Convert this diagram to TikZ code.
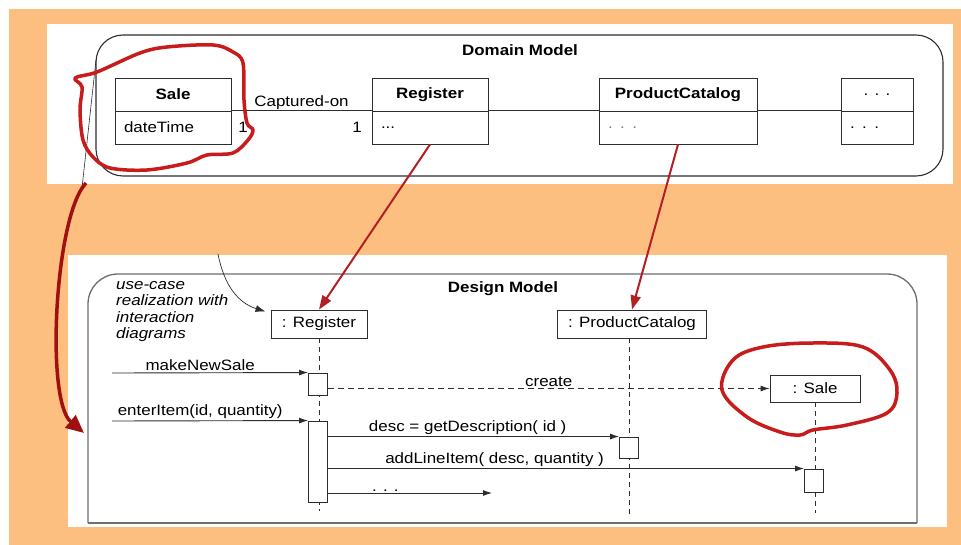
\documentclass[tikz,border=0pt]{standalone}
\usepackage{fontspec}
\setmainfont{Liberation Sans}[FakeStretch=1.13]
\usetikzlibrary{arrows.meta}
\definecolor{bgorange}{RGB}{253,191,128}
\definecolor{scrib}{RGB}{200,28,28}
\definecolor{redarrow}{RGB}{178,32,38}
\definecolor{darkred}{RGB}{160,16,16}
\definecolor{ink}{RGB}{45,45,45}
\definecolor{framegray}{RGB}{110,110,110}
\begin{document}
\begin{tikzpicture}[x=1pt,y=-1pt,
  font=\fontsize{15}{17}\selectfont,
  cname/.style={draw=ink, line width=0.9pt, minimum height=33pt, inner sep=0pt, font=\fontsize{15}{17}\selectfont\bfseries},
  cattr/.style={draw=ink, line width=0.9pt, minimum height=33pt, inner xsep=9pt, inner ysep=0pt, align=left},
  assoc/.style={draw=ink, line width=0.9pt},
  domframe/.style={draw=ink, line width=1.1pt, rounded corners=27pt},
  desframe/.style={draw=framegray, line width=1.3pt},
  title/.style={font=\fontsize{15}{17}\selectfont\bfseries},
  obj/.style={draw=ink, line width=0.9pt, minimum height=28pt, inner sep=0pt, fill=white},
  act/.style={draw=ink, line width=0.9pt, minimum width=19pt, inner sep=0pt, fill=white},
  lifeline/.style={draw=ink, line width=0.9pt, dash pattern=on 5pt off 4pt},
  msg/.style={draw=ink, line width=0.9pt, -{Latex[length=9pt,width=6pt]}},
  mlabel/.style={above, inner sep=1.5pt},
  notetext/.style={font=\fontsize{15}{16.4}\selectfont\itshape, align=left, inner sep=0pt},
  notearrow/.style={draw=ink, line width=0.7pt, -{Latex[length=10pt,width=7pt]}},
  redarr/.style={draw=redarrow, line width=2pt, -{Triangle[length=14pt,width=10pt]}},
  bigredarr/.style={draw=darkred, line width=3.5pt, -{Triangle[length=18pt,width=16pt]}},
  scribble/.style={draw=scrib, line width=3.5pt, line join=round}
]
\useasboundingbox (0,0) rectangle (961,545);
% backgrounds
\fill[bgorange] (9,9) rectangle (961,545);
\fill[white] (47,24) rectangle (953,184);
\fill[white] (68,255) rectangle (947,527);

% ---------------- Domain model ----------------
\draw[domframe] (96,35) rectangle (943,176);
\draw[ink, line width=0.6pt] (96,60) -- (82,188);
\node[title] (domtitle) at (520,50) {Domain Model};

\node[cname, minimum width=116pt] (saleN) at (173,94.5) {Sale};
\node[cattr, minimum width=116pt, text width=98pt] (saleA) at (173,127.5) {dateTime};
\node[cname, minimum width=116pt] (regN) at (430,94.5) {Register};
\node[cattr, minimum width=116pt, text width=98pt] (regA) at (430,127.5) {...};
\node[cname, minimum width=158pt] (pcN) at (678,94.5) {ProductCatalog};
\node[cattr, minimum width=158pt, text width=140pt, text=gray] (pcA) at (678,127.5) {. . .};
\node[cname, minimum width=72pt, font=\fontsize{15}{17}\selectfont] (dotsN) at (877,94.5) {. . .};
\node[cattr, minimum width=72pt, text width=54pt] (dotsA) at (877,127.5) {. . .};

\draw[assoc] (saleA.north east) -- (regA.north west) node[pos=0.5, above, inner sep=0.5pt] (capt) {Captured-on};
\draw[assoc] (regA.north east) -- (pcA.north west);
\draw[assoc] (pcA.north east) -- (dotsA.north west);
\node (mult1) at (243,127) {1};
\node (mult2) at (357,127) {1};

% ---------------- Design model ----------------
\draw[desframe, rounded corners=30pt] (88,523) -- (88,274) -- (917,274) -- (917,523);
\draw[desframe] (88,523) -- (917,523);
\node[title] (destitle) at (503,289) {Design Model};

\node[notetext, anchor=north west] (note) at (116,281) {use-case\\realization with\\interaction\\diagrams};

\node[obj, minimum width=96pt] (lreg) at (319,324) {: Register};
\node[obj, minimum width=149pt] (lpc) at (632,324) {: ProductCatalog};
\node[obj, minimum width=90pt, minimum height=27pt] (lsale) at (815,388.5) {: Sale};

\coordinate (regEnd) at (319,511);
\coordinate (pcEnd) at (629,514);
\coordinate (saleEnd) at (815,513);
\draw[lifeline] (lreg.south) -- (regEnd);
\draw[lifeline] (lpc.south -| pcEnd) -- (pcEnd);
\draw[lifeline] (lsale.south) -- (saleEnd);

\node[act, minimum height=22pt] (act1) at (318,384) {};
\node[act, minimum height=81pt] (act2) at (318,461.5) {};
\node[act, minimum height=21pt] (pcact) at (629,447.5) {};
\node[act, minimum height=23pt] (saleact) at (814,480.5) {};

\coordinate (f1) at (112,373);
\coordinate (f2) at (112,421);
\coordinate (d3) at (492,493);
\draw[msg] (f1) -- (act1.north west) node[mlabel, pos=0.45] {makeNewSale};
\draw[msg] (f2) -- (act2.north west) node[mlabel, pos=0.45] {enterItem(id, quantity)};
\draw[msg, dash pattern=on 6pt off 4pt] (act1.east |- lsale.west) -- (lsale.west) node[mlabel, pos=0.5] {create};
\draw[msg] (act2.east |- pcact.north) -- (pcact.north west) node[mlabel, pos=0.48] {desc = getDescription( id )};
\draw[msg] (act2.east |- saleact.north) -- (saleact.north west) node[mlabel, pos=0.35] {addLineItem( desc, quantity )};
\draw[msg] (act2.east |- d3) -- (d3) node[mlabel, pos=0.35] {. . .};

\coordinate (ns) at (218,254);
\draw[notearrow] (ns) .. controls (224,285) and (238,303) .. ([xshift=-5pt,yshift=-2pt]lreg.north west);

% ---------------- red annotations ----------------
\draw[scribble] plot[smooth cycle, tension=0.55] coordinates {
  (75,78) (97,72) (140,53) (167,47) (213,45) (233,52) (243,63) (244,100)
  (247,123) (253,130) (248,140) (233,153) (207,155) (187,163) (147,170)
  (110,168) (93,157) (83,140) (80,110) (82,87)};
\draw[scribble] plot[smooth cycle, tension=0.6] coordinates {
  (722,390) (733,360) (763,347) (813,343) (863,347) (890,370) (897,393)
  (887,413) (847,425) (813,430) (800,435) (780,432) (747,417)};

\draw[redarr] (regA.south) -- (lreg.north);
\draw[redarr] (pcA.south) -- (lpc.north);
\coordinate (cs) at (86,183);
\coordinate (ce) at (84,433);
\draw[bigredarr] (cs) .. controls (55,215) and (45,400) .. (ce);
\end{tikzpicture}
\end{document}
